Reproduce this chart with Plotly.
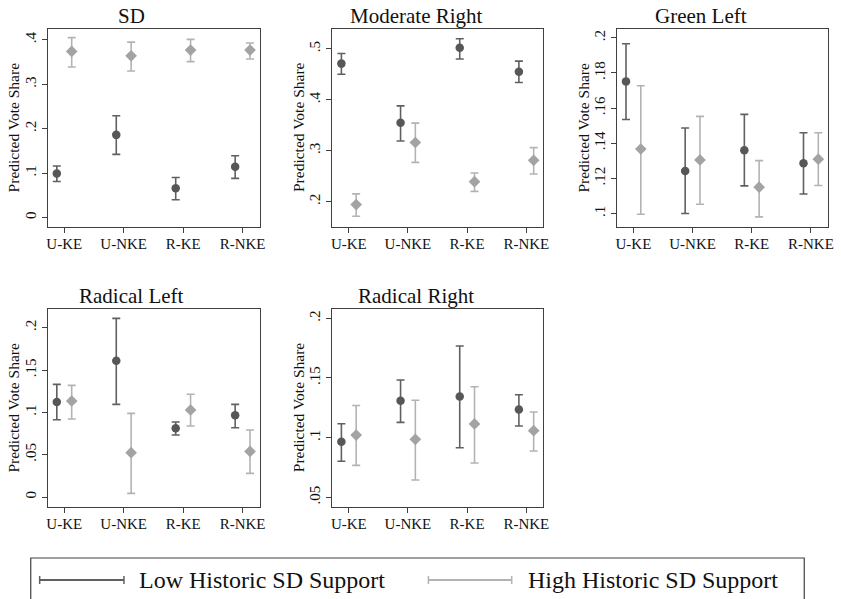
import plotly.graph_objects as go

# ---------------- data ----------------
categories = ["U-KE", "U-NKE", "R-KE", "R-NKE"]
panel_titles = ["SD", "Moderate Right", "Green Left", "Radical Left", "Radical Right"]
series_names = ["Low Historic SD Support", "High Historic SD Support"]

# SD
sd_low_est = [0.099, 0.186, 0.066, 0.114]
sd_low_lo = [0.081, 0.142, 0.040, 0.088]
sd_low_hi = [0.116, 0.229, 0.090, 0.139]
sd_high_est = [0.374, 0.364, 0.377, 0.377]
sd_high_lo = [0.339, 0.330, 0.351, 0.357]
sd_high_hi = [0.405, 0.395, 0.401, 0.393]

# Moderate Right
mr_low_est = [0.471, 0.355, 0.502, 0.455]
mr_low_lo = [0.450, 0.319, 0.480, 0.434]
mr_low_hi = [0.491, 0.388, 0.520, 0.476]
mr_high_est = [0.194, 0.316, 0.239, 0.281]
mr_high_lo = [0.171, 0.277, 0.220, 0.254]
mr_high_hi = [0.215, 0.354, 0.256, 0.306]

# Green Left
gl_low_est = [0.1752, 0.1242, 0.1360, 0.1286]
gl_low_lo = [0.1535, 0.1000, 0.1157, 0.1111]
gl_low_hi = [0.1966, 0.1487, 0.1564, 0.1460]
gl_high_est = [0.1367, 0.1305, 0.1150, 0.1309]
gl_high_lo = [0.0996, 0.1053, 0.0981, 0.1159]
gl_high_hi = [0.1727, 0.1553, 0.1301, 0.1460]

# Radical Left
rl_low_est = [0.1122, 0.1610, 0.0811, 0.0965]
rl_low_lo = [0.0913, 0.1094, 0.0732, 0.0819]
rl_low_hi = [0.1330, 0.2110, 0.0886, 0.1094]
rl_high_est = [0.1134, 0.0524, 0.1028, 0.0539]
rl_high_lo = [0.0921, 0.0043, 0.0839, 0.0280]
rl_high_hi = [0.1319, 0.0988, 0.1213, 0.0791]

# Radical Right
rr_low_est = [0.0966, 0.1310, 0.1344, 0.1235]
rr_low_lo = [0.0802, 0.1128, 0.0916, 0.1098]
rr_low_hi = [0.1117, 0.1483, 0.1768, 0.1360]
rr_high_est = [0.1022, 0.0986, 0.1115, 0.1059]
rr_high_lo = [0.0768, 0.0645, 0.0788, 0.0889]
rr_high_hi = [0.1270, 0.1313, 0.1427, 0.1215]

# y-axis tick labels per panel
sd_ticks = [0, 0.1, 0.2, 0.3, 0.4]
sd_ticktext = ["0", ".1", ".2", ".3", ".4"]
mr_ticks = [0.2, 0.3, 0.4, 0.5]
mr_ticktext = [".2", ".3", ".4", ".5"]
gl_ticks = [0.1, 0.12, 0.14, 0.16, 0.18, 0.2]
gl_ticktext = [".1", ".12", ".14", ".16", ".18", ".2"]
rl_ticks = [0, 0.05, 0.1, 0.15, 0.2]
rl_ticktext = ["0", ".05", ".1", ".15", ".2"]
rr_ticks = [0.05, 0.1, 0.15, 0.2]
rr_ticktext = [".05", ".1", ".15", ".2"]

# ---------------- layout helpers ----------------
W, H = 841, 599
FONT = "Liberation Serif"
LOW_MARK = "#575757"
LOW_BAR = "#606060"
HIGH_MARK = "#a3a3a3"
HIGH_BAR = "#b3b3b3"
AXIS_COL = "#404040"

panels = [
    dict(low=(sd_low_est, sd_low_lo, sd_low_hi), high=(sd_high_est, sd_high_lo, sd_high_hi),
         yr=[-0.0204, 0.4256], tv=sd_ticks, tt=sd_ticktext, box=(47, 261, 28.5, 226.5)),
    dict(low=(mr_low_est, mr_low_lo, mr_low_hi), high=(mr_high_est, mr_high_lo, mr_high_hi),
         yr=[0.151, 0.540], tv=mr_ticks, tt=mr_ticktext, box=(334, 547, 28.5, 226.5)),
    dict(low=(gl_low_est, gl_low_lo, gl_low_hi), high=(gl_high_est, gl_high_lo, gl_high_hi),
         yr=[0.0926, 0.2053], tv=gl_ticks, tt=gl_ticktext, box=(621, 834, 28.5, 226.5)),
    dict(low=(rl_low_est, rl_low_lo, rl_low_hi), high=(rl_high_est, rl_high_lo, rl_high_hi),
         yr=[-0.0114, 0.2224], tv=rl_ticks, tt=rl_ticktext, box=(47, 261, 308.7, 506.7)),
    dict(low=(rr_low_est, rr_low_lo, rr_low_hi), high=(rr_high_est, rr_high_lo, rr_high_hi),
         yr=[0.0422, 0.2080], tv=rr_ticks, tt=rr_ticktext, box=(334, 547, 308.7, 506.7)),
]

OFFSET = 0.125
xpos = list(range(1, len(categories) + 1))

fig = go.Figure()
annotations = []
layout_axes = {}

for i, p in enumerate(panels):
    k = "" if i == 0 else str(i + 1)
    xa, ya = "x" + k, "y" + k
    for (est, lo, hi), sign, mcol, bcol, sym, size in [
        (p["low"], -1, LOW_MARK, LOW_BAR, "circle", 8.5),
        (p["high"], 1, HIGH_MARK, HIGH_BAR, "diamond", 9),
    ]:
        fig.add_trace(go.Scatter(
            x=[c + sign * OFFSET for c in xpos], y=est, mode="markers",
            xaxis=xa, yaxis=ya, showlegend=False,
            marker=dict(symbol=sym, size=size, color=mcol, line=dict(width=0)),
            error_y=dict(type="data", symmetric=False,
                         array=[h - e for h, e in zip(hi, est)],
                         arrayminus=[e - l for e, l in zip(est, lo)],
                         color=bcol, thickness=1.6, width=4),
        ))
    x0, x1, y0, y1 = p["box"]
    layout_axes["xaxis" + k] = dict(
        domain=[x0 / W, x1 / W], anchor=ya, range=[0.72, 4.29],
        tickmode="array", tickvals=xpos, ticktext=categories,
        showline=True, mirror=True, linecolor=AXIS_COL, linewidth=1,
        ticks="outside", ticklen=5, tickcolor=AXIS_COL, tickwidth=1,
        ticklabelstandoff=-2,
        showgrid=False, zeroline=False,
        tickfont=dict(family=FONT, size=15, color="#111"),
    )
    layout_axes["yaxis" + k] = dict(
        domain=[1 - y1 / H, 1 - y0 / H], anchor=xa, range=p["yr"],
        tickmode="array", tickvals=p["tv"], ticktext=p["tt"], tickangle=-90,
        showline=True, mirror=True, linecolor=AXIS_COL, linewidth=1,
        ticks="outside", ticklen=5, tickcolor=AXIS_COL, tickwidth=1,
        showgrid=False, zeroline=False,
        tickfont=dict(family=FONT, size=15, color="#111"),
    )
    # panel title
    annotations.append(dict(
        text=panel_titles[i], xref="paper", yref="paper",
        x=((x0 + x1) / 2 - 22) / W,
        y=1 - (y0 - 13) / H, xanchor="center", yanchor="middle", showarrow=False,
        font=dict(family=FONT, size=21, color="#111"),
    ))
    # y-axis title
    annotations.append(dict(
        text="Predicted Vote Share", xref="paper", yref="paper",
        x=(x0 - 34) / W, y=1 - (y0 + y1) / 2 / H, textangle=-90,
        xanchor="center", yanchor="middle", showarrow=False,
        font=dict(family=FONT, size=15.5, color="#111"),
    ))

# ---------------- legend (drawn) ----------------
shapes = []
shapes.append(dict(type="rect", xref="paper", yref="paper",
                   x0=30 / W, x1=810 / W, y0=1 - 610 / H, y1=1 - 558 / H,
                   line=dict(color="#404040", width=1.2), fillcolor="rgba(0,0,0,0)"))
for (lx0, lx1, tx, col, name) in [(39, 124, 137, LOW_BAR, series_names[0]),
                                   (431, 515, 529, HIGH_BAR, series_names[1])]:
    ly = 1 - 580 / H
    shapes.append(dict(type="line", xref="paper", yref="paper", x0=lx0 / W, x1=lx1 / W,
                       y0=ly, y1=ly, line=dict(color=col, width=1.8)))
    for cx in (lx0, lx1):
        shapes.append(dict(type="line", xref="paper", yref="paper", x0=cx / W, x1=cx / W,
                           y0=1 - 576 / H, y1=1 - 584 / H, line=dict(color=col, width=1.5)))
    annotations.append(dict(text=name, xref="paper", yref="paper", x=tx / W, y=ly,
                            xanchor="left", yanchor="middle", showarrow=False,
                            font=dict(family=FONT, size=24, color="#111")))

fig.update_layout(
    width=W, height=H, margin=dict(l=0, r=0, t=0, b=0),
    paper_bgcolor="white", plot_bgcolor="white",
    showlegend=False, annotations=annotations, shapes=shapes,
    font=dict(family=FONT),
    **layout_axes,
)

fig.write_html("out.html")
